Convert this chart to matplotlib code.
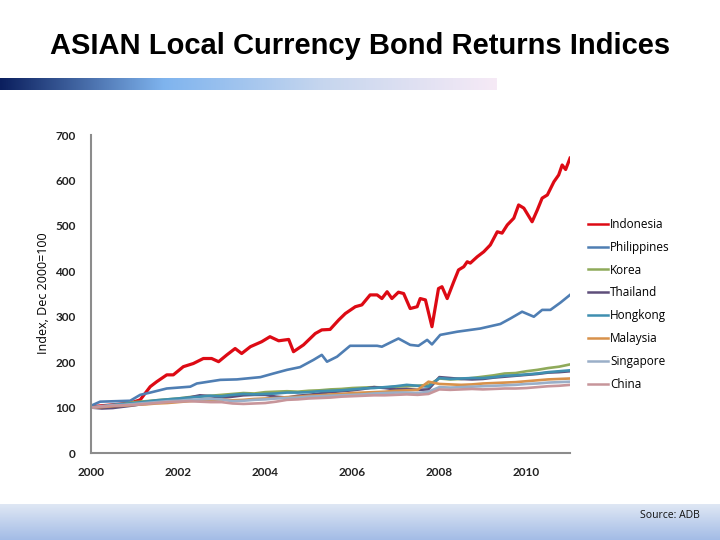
import numpy as np
import matplotlib
matplotlib.use("Agg")
import matplotlib.pyplot as plt
from matplotlib.colors import LinearSegmentedColormap

# ---------------- data ----------------
indo_x = [2000.0, 2000.5, 2000.9, 2001.13, 2001.36, 2001.51, 2001.74, 2001.89, 2002.12, 2002.35,
          2002.58, 2002.77, 2002.93, 2003.12, 2003.31, 2003.46, 2003.66, 2003.92, 2004.11, 2004.31,
          2004.54, 2004.65, 2004.88, 2005.15, 2005.30, 2005.49, 2005.69, 2005.84, 2006.07, 2006.22,
          2006.41, 2006.57, 2006.68, 2006.80, 2006.91, 2007.06, 2007.18, 2007.33, 2007.49, 2007.56,
          2007.68, 2007.83, 2007.98, 2008.06, 2008.18, 2008.33, 2008.44, 2008.56, 2008.64, 2008.71,
          2008.87, 2009.02, 2009.17, 2009.33, 2009.44, 2009.56, 2009.71, 2009.82, 2009.94, 2010.13,
          2010.25, 2010.36, 2010.48, 2010.63, 2010.74, 2010.82, 2010.90, 2011.0]
indonesia = [102, 106, 110, 117, 146, 157, 172, 172, 190, 197,
             208, 208, 201, 216, 230, 219, 234, 245, 256, 247,
             250, 223, 238, 263, 271, 272, 293, 307, 322, 326,
             348, 348, 340, 355, 340, 354, 351, 318, 322, 340,
             337, 278, 362, 366, 340, 377, 403, 410, 421, 418,
             432, 443, 458, 487, 484, 502, 517, 546, 539, 509,
             535, 561, 568, 597, 612, 634, 624, 649]

phil_x = [2000.0, 2000.21, 2000.9, 2001.13, 2001.36, 2001.74, 2002.28, 2002.43, 2002.97, 2003.35,
          2003.89, 2004.19, 2004.50, 2004.80, 2005.11, 2005.30, 2005.42, 2005.65, 2005.95, 2006.57,
          2006.68, 2007.06, 2007.33, 2007.52, 2007.72, 2007.83, 2008.02, 2008.41, 2008.94, 2009.40,
          2009.63, 2009.90, 2010.17, 2010.36, 2010.55, 2010.78, 2011.0]
philippines = [104, 113, 115, 128, 133, 142, 146, 153, 161, 162,
               167, 175, 183, 189, 205, 216, 201, 212, 236, 236,
               234, 252, 238, 236, 249, 239, 260, 267, 274, 284,
               296, 311, 300, 315, 315, 331, 348]

quarters = [2000 + 0.25 * i for i in range(45)]
korea = [100, 102, 105, 108, 112, 114, 116, 118, 120, 123, 125, 126,
         128, 130, 132, 131, 134, 135, 136, 135, 137, 138, 140, 141,
         143, 144, 145, 144, 146, 147, 148, 150, 164, 162, 163, 165,
         168, 171, 175, 176, 180, 183, 187, 190, 195]
thailand = [100, 98, 99, 102, 105, 109, 113, 116, 118, 122, 127, 125,
            122, 124, 127, 128, 128, 124, 122, 126, 128, 131, 134, 136,
            138, 141, 145, 143, 140, 141, 139, 140, 167, 165, 163, 162,
            163, 166, 168, 170, 172, 174, 177, 178, 180]
hongkong = [100, 103, 106, 108, 110, 113, 116, 118, 120, 122, 124, 126,
            125, 128, 130, 129, 130, 131, 133, 133, 134, 136, 137, 138,
            140, 142, 143, 145, 147, 150, 148, 146, 165, 163, 164, 165,
            165, 167, 170, 171, 173, 175, 178, 180, 182]
malaysia = [100, 101, 103, 104, 106, 107, 109, 110, 112, 114, 116, 117,
            118, 116, 117, 119, 120, 121, 123, 124, 126, 127, 129, 130,
            132, 133, 134, 135, 137, 138, 139, 157, 152, 151, 150, 151,
            153, 154, 155, 156, 158, 160, 162, 163, 164]
singapore = [100, 103, 105, 106, 108, 110, 112, 114, 115, 117, 118, 119,
             118, 114, 115, 117, 118, 120, 121, 122, 124, 125, 126, 127,
             128, 129, 131, 132, 133, 133, 132, 135, 145, 144, 145, 146,
             147, 148, 149, 150, 152, 153, 155, 156, 157]
china = [100, 102, 104, 105, 106, 108, 110, 112, 113, 114, 113, 112,
         112, 109, 108, 109, 110, 113, 117, 118, 120, 121, 122, 124,
         125, 126, 127, 127, 128, 129, 128, 130, 140, 139, 140, 141,
         140, 141, 142, 142, 143, 145, 147, 148, 150]

names = ["Indonesia", "Philippines", "Korea", "Thailand", "Hongkong", "Malaysia", "Singapore", "China"]
colors = ["#DD0A14", "#4F7EB3", "#8FAA5A", "#5E4E7A", "#3F8FB0", "#D8914A", "#9AAFC8", "#C7959A"]
xticks = [2000, 2002, 2004, 2006, 2008, 2010]
yticks = [0, 100, 200, 300, 400, 500, 600, 700]

# ---------------- figure ----------------
fig = plt.figure(figsize=(7.2, 5.4), dpi=100)
fig.patch.set_facecolor("white")

# header gradient bar
hb = fig.add_axes([0.0, 1 - 90 / 540, 497 / 720, 12 / 540])
hcmap = LinearSegmentedColormap.from_list(
    "hdr", [(0.0, "#0B1F5E"), (0.33, "#7FB4EE"), (0.65, "#C6D6EE"), (1.0, "#F6EAF6")])
hb.imshow(np.linspace(0, 1, 256).reshape(1, -1), aspect="auto", cmap=hcmap, extent=[0, 1, 0, 1])
hb.set_axis_off()

# footer gradient bar
fb = fig.add_axes([0.0, 0.0, 1.0, 36 / 540])
fcmap = LinearSegmentedColormap.from_list("ftr", [(0.0, "#A3BCE6"), (1.0, "#DFE7F4")])
fb.imshow(np.linspace(0, 1, 64).reshape(-1, 1), aspect="auto", cmap=fcmap,
          extent=[0, 1, 0, 1], origin="lower")
fb.set_axis_off()
fig.text(700 / 720, 1 - 515 / 540, "Source: ADB", ha="right", va="center",
         fontsize=7.5, family="Open Sans", color="#111111")

fig.text(0.5, 1 - 46 / 540, "ASIAN Local Currency Bond Returns Indices", ha="center", va="center",
         fontsize=21, fontweight="bold", family="Liberation Sans", color="black")

ax = fig.add_axes([91 / 720, 1 - 453 / 540, (570 - 91) / 720, (453 - 135) / 540])
series = [(indo_x, indonesia), (phil_x, philippines), (quarters, korea), (quarters, thailand),
          (quarters, hongkong), (quarters, malaysia), (quarters, singapore), (quarters, china)]
for (xs, ys), nm, c in zip(series, names, colors):
    lw = 2.3 if nm == "Indonesia" else 1.9
    ax.plot(xs, ys, color=c, lw=lw, label=nm, solid_joinstyle="round")

ax.set_xlim(2000, 2011)
ax.set_ylim(0, 700)
ax.set_xticks(xticks)
ax.set_xticklabels([str(t) for t in xticks])
ax.set_yticks(yticks)
ax.set_yticklabels([str(t) for t in yticks])
for s in ["top", "right"]:
    ax.spines[s].set_visible(False)
for s in ["left", "bottom"]:
    ax.spines[s].set_color("#8C8C8C")
    ax.spines[s].set_linewidth(1.5)
ax.tick_params(length=0, labelsize=8.5, colors="#222222")
ax.tick_params(axis="y", pad=11)
ax.tick_params(axis="x", pad=10)
for lab in ax.get_xticklabels() + ax.get_yticklabels():
    lab.set_family("Lato")
    lab.set_fontweight("bold")
ax.set_ylabel("Index, Dec 2000=100", fontsize=9, family="Open Sans")
ax.yaxis.set_label_coords(-0.086, 0.503)

leg = ax.legend(loc="upper left", bbox_to_anchor=(583 / 720, 1 - 213 / 540),
                bbox_transform=fig.transFigure, frameon=False, fontsize=8.5,
                handlelength=1.7, handletextpad=0.2, labelspacing=0.84, borderaxespad=0)
for t in leg.get_texts():
    t.set_family("Open Sans")
for h in leg.get_lines():
    h.set_linewidth(1.8)

fig.savefig("out.png", dpi=100)
